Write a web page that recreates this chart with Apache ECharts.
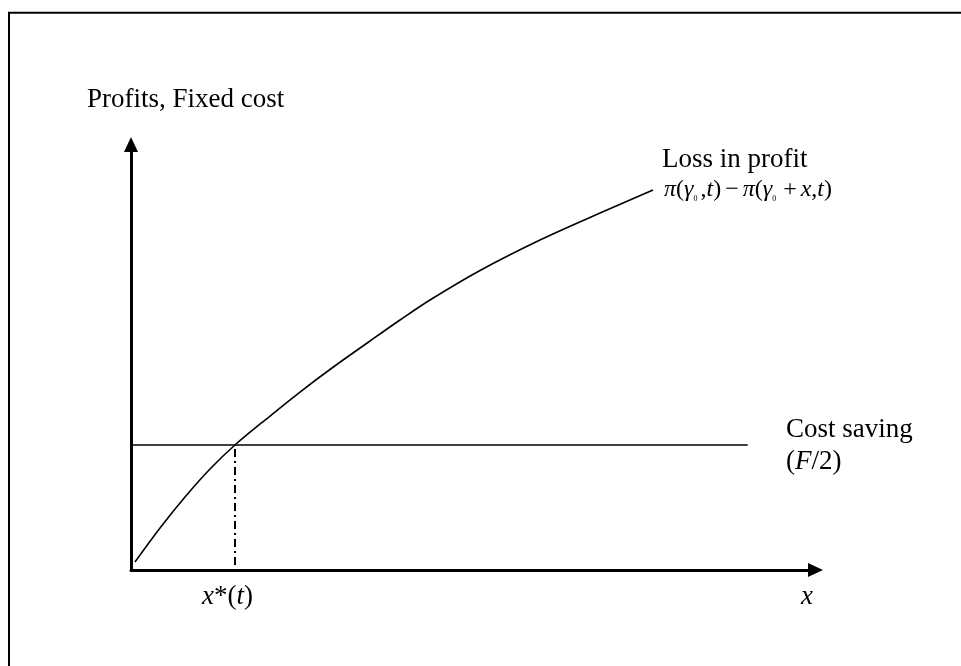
<!DOCTYPE html>
<html>
<head>
<meta charset="utf-8">
<script src="https://cdn.jsdelivr.net/npm/echarts@6/dist/echarts.min.js"></script>
<style>
html,body{margin:0;padding:0;background:#fff;}
#chart{width:961px;height:666px;}
</style>
</head>
<body>
<div id="chart"></div>
<script>
// Loss in profit curve (conceptual units)
const curveX = [0.58, 4.24, 7.89, 11.54, 15.19, 20.31, 24.69, 29.36, 34.92, 39.30, 43.68, 50.99, 59.90, 68.52, 76.26];
const curveY = [1.88, 9.87, 17.16, 23.74, 29.38, 36.19, 41.83, 47.47, 53.82, 58.75, 63.45, 70.39, 77.67, 83.90, 89.31];
// Cost saving level (F/2)
const costSavingY = 29.38;
const costSavingX = [0, 90.1];
// x*(t)
const xStar = 15.19;
const xStarY = [1.2, 29.38];

const axisLabelY = 'Profits, Fixed cost';
const curveLabel = 'Loss in profit';
const costLabel1 = 'Cost saving';
const xAxisName = 'x';

const serif = '"Liberation Serif", "Times New Roman", serif';

const chart = echarts.init(document.getElementById('chart'), null, {renderer: 'canvas'});

const axisCommon = {
  type: 'value', min: 0, max: 100,
  axisLine: {show: true, symbol: ['none', 'triangle'], symbolSize: [14, 15],
    lineStyle: {color: '#000', width: 3}},
  axisTick: {show: false}, axisLabel: {show: false}, splitLine: {show: false}
};

chart.setOption({
  animation: false,
  backgroundColor: '#fff',
  grid: {left: 131, right: 145.5, top: 144.5, bottom: 96},
  xAxis: axisCommon,
  yAxis: axisCommon,
  series: [
    {
      type: 'line', smooth: 0.35, symbol: 'none',
      data: curveX.map((x, i) => [x, curveY[i]]),
      lineStyle: {color: '#000', width: 1.6}
    },
    {
      type: 'line', symbol: 'none',
      data: costSavingX.map(x => [x, costSavingY]),
      lineStyle: {color: '#000', width: 1.3}
    },
    {
      type: 'line', symbol: 'none',
      data: xStarY.map(y => [xStar, y]),
      lineStyle: {color: '#000', width: 2, type: [8, 4, 2, 4]}
    }
  ],
  graphic: [
    {type: 'line', shape: {x1: 9, y1: 12, x2: 9, y2: 666}, style: {stroke: '#000', lineWidth: 2}},
    {type: 'line', shape: {x1: 8, y1: 12.8, x2: 961, y2: 12.8}, style: {stroke: '#000', lineWidth: 2}},
    {type: 'text', left: 87, top: 86, style: {text: axisLabelY, font: '27px ' + serif, fill: '#000'}},
    {type: 'text', left: 662, top: 146.5, style: {text: curveLabel, font: '27px ' + serif, fill: '#000'}},
    {type: 'text', left: 664, top: 178, style: {
      text: '{i|π}{n|(}{i|γ}{s|0}{n|,}{i|t}{n|)}{o|−}{i|π}{n|(}{i|γ}{s|0}{o|+}{i|x}{n|,}{i|t}{n|)}',
      fill: '#000',
      rich: {
        i: {font: 'italic 24px ' + serif, fill: '#000', verticalAlign: 'middle', lineHeight: 26},
        n: {font: '24px ' + serif, fill: '#000', verticalAlign: 'middle', lineHeight: 26},
        o: {font: '24px ' + serif, fill: '#000', verticalAlign: 'middle', lineHeight: 26, padding: [0, 4, 0, 4]},
        s: {font: '8px ' + serif, fill: '#000', verticalAlign: 'bottom', lineHeight: 24, padding: [0, 3, 0, 0]}
      }
    }},
    {type: 'text', left: 786, top: 416.5, style: {text: costLabel1, font: '27px ' + serif, fill: '#000'}},
    {type: 'text', left: 786, top: 448.5, style: {
      text: '{n|(}{i|F}{n|/2)}', fill: '#000',
      rich: {
        i: {font: 'italic 27px ' + serif, fill: '#000'},
        n: {font: '27px ' + serif, fill: '#000'}
      }
    }},
    {type: 'text', left: 202, top: 583.5, style: {
      text: '{i|x}{n|*(}{i|t}{n|)}', fill: '#000',
      rich: {
        i: {font: 'italic 27px ' + serif, fill: '#000'},
        n: {font: '27px ' + serif, fill: '#000'}
      }
    }},
    {type: 'text', left: 801, top: 583.5, style: {text: xAxisName, font: 'italic 27px ' + serif, fill: '#000'}}
  ]
});
</script>
</body>
</html>
